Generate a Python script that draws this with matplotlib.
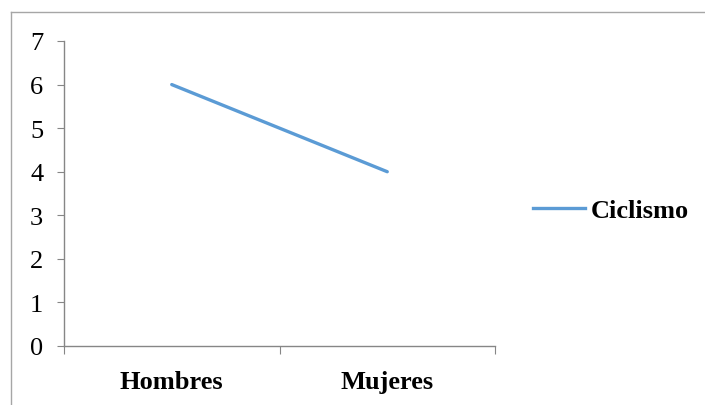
import matplotlib
matplotlib.use("Agg")
import matplotlib.pyplot as plt
from matplotlib.lines import Line2D

categories = ["Hombres", "Mujeres"]
ciclismo = [6, 4]
series_name = "Ciclismo"
y_ticks = [0, 1, 2, 3, 4, 5, 6, 7]

plt.rcParams["font.family"] = ["Liberation Serif", "DejaVu Serif"]

W, H = 705, 406
FS = 19
fig = plt.figure(figsize=(W / 100, H / 100), dpi=100)
fig.patch.set_facecolor("white")

# outer chart frame (top and left edges)
frame_col = "#a6a6a6"
fig.add_artist(Line2D([11 / W, 1.0], [1 - 13 / H, 1 - 13 / H], color=frame_col, lw=1.0))
fig.add_artist(Line2D([11 / W, 11 / W], [0.0, 1 - 13 / H], color=frame_col, lw=1.0))

ax = fig.add_axes([64 / W, 1 - 347 / H, (495 - 64) / W, (347 - 42) / H])
xs = [i + 0.5 for i in range(len(categories))]
ax.plot(xs, ciclismo, color="#5b9bd5", lw=2.4, solid_capstyle="round")

ax.set_xlim(0, len(categories))
ax.set_ylim(0, 7)
ax.set_yticks(y_ticks)
ax.set_yticklabels([str(v) for v in y_ticks], fontsize=FS)

ax.set_xticks(range(len(categories) + 1))
ax.set_xticklabels([])
ax.set_xticks(xs, minor=True)
ax.set_xticklabels(categories, minor=True, fontsize=FS, fontweight="bold")

axis_col = "#868686"
for s in ["top", "right"]:
    ax.spines[s].set_visible(False)
for s in ["left", "bottom"]:
    ax.spines[s].set_color(axis_col)
    ax.spines[s].set_linewidth(1.0)

ax.tick_params(axis="y", which="major", length=5, color=axis_col, pad=10)
ax.tick_params(axis="x", which="major", length=6, color=axis_col, direction="out")
ax.tick_params(axis="x", which="minor", length=0, pad=17)

fs_px = FS * 100 / 72
handle = Line2D([], [], color="#5b9bd5", lw=2.4)
leg = fig.legend([handle], [series_name], loc="center left",
                 bbox_to_anchor=((533 - 0.9 * fs_px) / W, 1 - 211 / H), frameon=False,
                 handlelength=52 / fs_px, handletextpad=6 / fs_px,
                 prop={"size": FS, "weight": "bold"})

fig.savefig("out.png", dpi=100, facecolor="white")
